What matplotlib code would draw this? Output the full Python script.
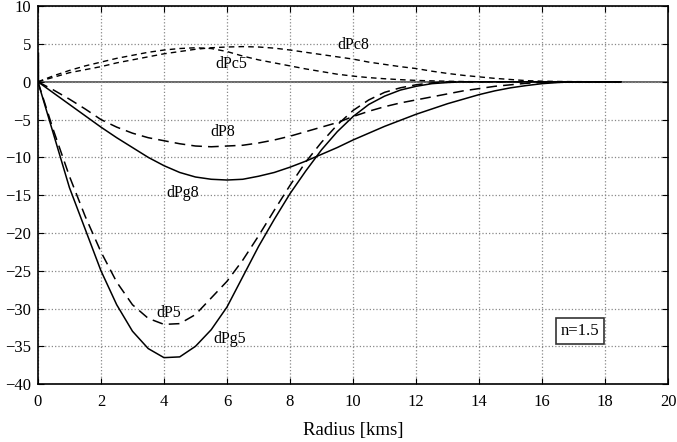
import numpy as np
import matplotlib
matplotlib.use("Agg")
import matplotlib.pyplot as plt

plt.rcParams['font.family'] = ['Liberation Serif', 'DejaVu Serif']

# radius grid (kms) and the curves
r = [0, 0.5, 1, 1.5, 2, 2.5, 3, 3.5, 4, 4.5, 5, 5.5, 6, 6.5, 7, 7.5, 8, 8.5,
     9, 9.5, 10, 10.5, 11, 11.5, 12, 12.5, 13, 13.5, 14, 14.5, 15, 15.5, 16,
     16.5, 17, 17.5, 18, 18.5]

dPg5 = [0, -7, -14, -19.5, -25, -29.5, -33, -35.3, -36.5, -36.4, -35, -32.8,
        -29.8, -25.8, -21.8, -18.2, -14.8, -11.8, -9, -6.6, -4.6, -3.0, -1.9,
        -1.1, -0.6, -0.25, -0.1, 0, 0, 0, 0, 0, 0, 0, 0, 0, 0, 0]
dP5 = [0, -6.5, -12.5, -17.8, -22.5, -26.5, -29.5, -31.3, -32.1, -32, -30.8,
       -28.6, -26.4, -23.6, -20.4, -17, -13.7, -10.6, -8, -5.7, -3.8, -2.4,
       -1.4, -0.8, -0.4, -0.15, 0, 0, 0, 0, 0, 0, 0, 0, 0, 0, 0, 0]
dPg8 = [0, -1.5, -3.0, -4.5, -6, -7.4, -8.7, -10, -11.1, -12, -12.6, -12.9,
        -13, -12.9, -12.5, -12, -11.3, -10.5, -9.6, -8.7, -7.7, -6.8, -5.9,
        -5.1, -4.3, -3.6, -2.9, -2.3, -1.7, -1.2, -0.8, -0.5, -0.25, -0.1, 0,
        0, 0, 0]
dP8 = [0, -1.1, -2.3, -3.6, -5.0, -6.0, -6.8, -7.4, -7.8, -8.2, -8.5, -8.6,
       -8.5, -8.4, -8.1, -7.7, -7.2, -6.6, -6.0, -5.4, -4.6, -3.9, -3.3, -2.8,
       -2.4, -2.0, -1.6, -1.2, -0.9, -0.6, -0.4, -0.2, -0.1, 0, 0, 0, 0, 0]
dPc5 = [0, 0.8, 1.5, 2.1, 2.6, 3.1, 3.5, 3.9, 4.2, 4.4, 4.5, 4.4, 4.0, 3.4,
        2.9, 2.5, 2.1, 1.7, 1.35, 1.0, 0.75, 0.55, 0.4, 0.28, 0.18, 0.12, 0.07,
        0.03, 0, 0, 0, 0, 0, 0, 0, 0, 0, 0]
dPc8 = [0, 0.6, 1.2, 1.6, 2.0, 2.5, 2.9, 3.3, 3.7, 4.0, 4.3, 4.5, 4.6, 4.65,
        4.6, 4.45, 4.2, 3.9, 3.6, 3.3, 3.0, 2.6, 2.3, 2.0, 1.75, 1.4, 1.1,
        0.85, 0.65, 0.45, 0.3, 0.15, 0.08, 0.04, 0.02, 0.01, 0, 0]

# short spike at the origin
spike_r = [0, 0]
spike_v = [0, 3.8]

fig = plt.figure(figsize=(6.77, 4.42), dpi=100)
ax = fig.add_axes([0.056, 0.131, 0.931, 0.855])

ax.axhline(0, color='#666666', lw=1.4, zorder=1)
ax.plot(spike_r, spike_v, color='black', lw=1.0)

ax.plot(r, dPg5, color='black', lw=1.1)
ax.plot(r, dPg8, color='black', lw=1.1)
ax.plot(r, dP5, color='black', lw=1.1, dashes=(7, 4))
ax.plot(r, dP8, color='black', lw=1.1, dashes=(7, 4))
ax.plot(r, dPc5, color='black', lw=1.0, dashes=(4, 3))
ax.plot(r, dPc8, color='black', lw=1.0, dashes=(4, 3))

lab = dict(fontsize=11.5, ha='center', va='center')
ax.text(10.0, 4.8, 'dPc8', **lab)
ax.text(6.15, 2.4, 'dPc5', **lab)
ax.text(5.85, -6.7, 'dP8', **lab)
ax.text(4.6, -14.7, 'dPg8', **lab)
ax.text(4.15, -30.6, 'dP5', **lab)
ax.text(6.1, -34.0, 'dPg5', **lab)
ax.text(17.2, -33.0, 'n=1.5', fontsize=12, ha='center', va='center',
        bbox=dict(boxstyle='square,pad=0.3', fc='white', ec='#333333', lw=1.2))

ax.set_xlim(0, 20)
ax.set_ylim(-40, 10)
ax.set_xticks(np.arange(0, 21, 2))
ax.set_yticks(np.arange(-40, 11, 5))
ax.grid(True, linestyle=':', color='#888888', lw=0.9)
ax.tick_params(direction='in', top=True, right=True, labelsize=12, length=4)
ax.tick_params(axis='x', pad=7)
ax.tick_params(axis='y', pad=5)
for s in ax.spines.values():
    s.set_linewidth(1.2)
ax.set_xlabel('Radius [kms]', fontsize=13.5, labelpad=9)

fig.savefig('out.png', dpi=100)
